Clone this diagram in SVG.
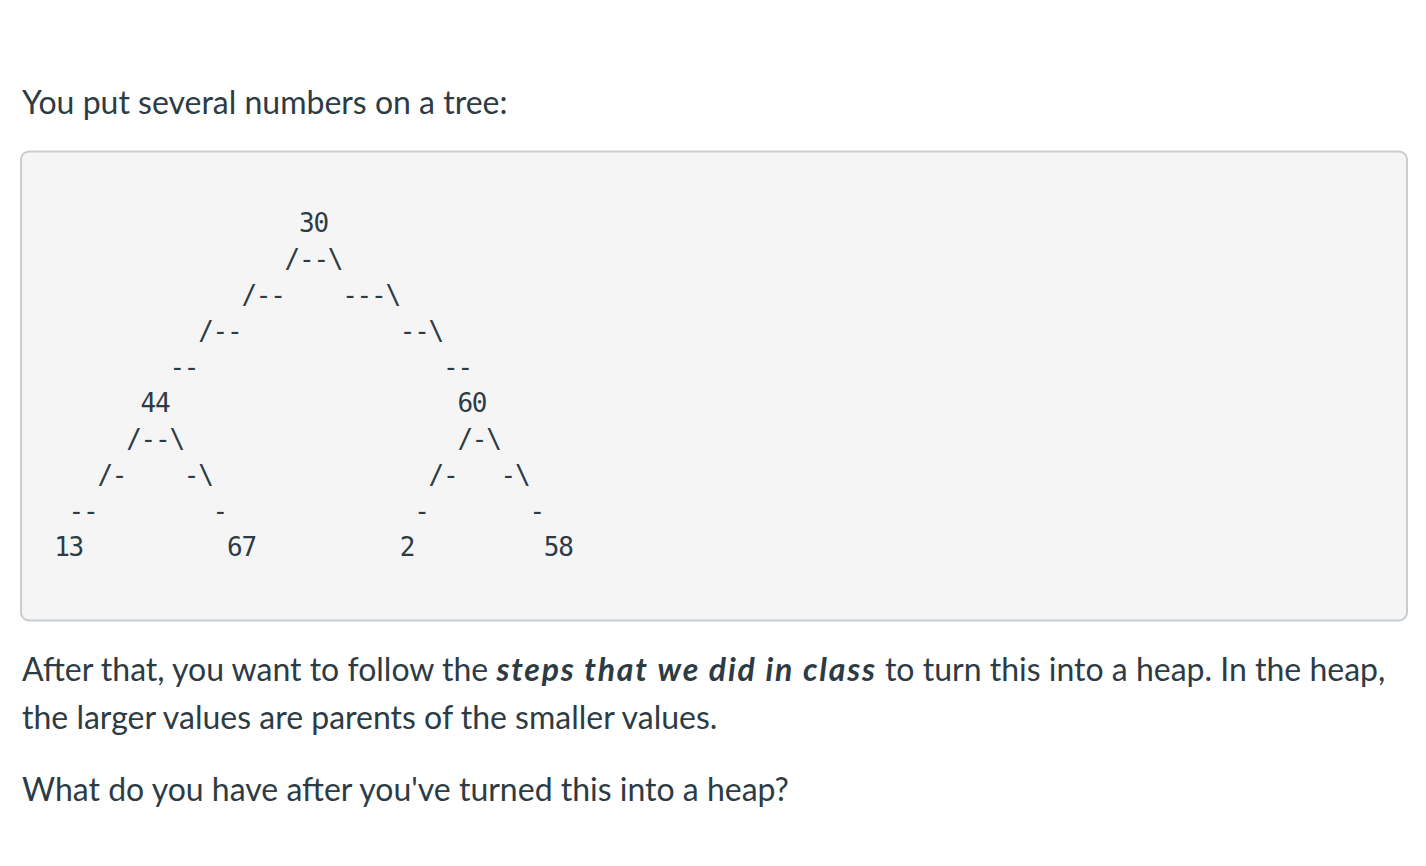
<svg xmlns="http://www.w3.org/2000/svg" width="1426" height="866" viewBox="0 0 1426 866">
<style>
.p{font-family:Lato,"Liberation Sans",sans-serif;font-size:32px;fill:#2d3b45}
.b{font-weight:bold;font-style:italic;letter-spacing:1.8px}
.m{font-family:"DejaVu Sans Mono","Liberation Mono",monospace;font-size:26px;letter-spacing:-1.25px;fill:#2d3b45}
</style>
<rect width="1426" height="866" fill="#ffffff"/>
<text class="p" x="22" y="114">You put several numbers on a tree:</text>
<g id="codebox">
<rect x="21" y="151.5" width="1386" height="469" rx="8" fill="#f5f5f5" stroke="#c7cdd1" stroke-width="2"/>
</g>
<g id="tree" class="m">
<text x="299" y="232">30</text>
<text x="284.6" y="268">/--\</text>
<text x="241.4" y="304">/--</text><text x="342.2" y="304">---\</text>
<text x="198.2" y="340">/--</text><text x="399.8" y="340">--\</text>
<text x="169.4" y="376">--</text><text x="443" y="376">--</text>
<text x="140.6" y="412">44</text><text x="457.4" y="412">60</text>
<text x="126.2" y="448">/--\</text><text x="457.4" y="448">/-\</text>
<text x="97.4" y="484">/-</text><text x="183.8" y="484">-\</text><text x="428.6" y="484">/-</text><text x="500.6" y="484">-\</text>
<text x="68.6" y="520">--</text><text x="212.6" y="520">-</text><text x="414.2" y="520">-</text><text x="529.4" y="520">-</text>
<text x="54.2" y="556">13</text><text x="227" y="556">67</text><text x="399.8" y="556">2</text><text x="543.8" y="556">58</text>
</g>
<text class="p" x="22" y="681">After that, you want to follow the <tspan class="b">steps that we did in class</tspan> to turn this into a heap. In the heap,</text>
<text class="p" x="22" y="729">the larger values are parents of the smaller values.</text>
<text class="p" x="22" y="801">What do you have after you've turned this into a heap?</text>
</svg>
